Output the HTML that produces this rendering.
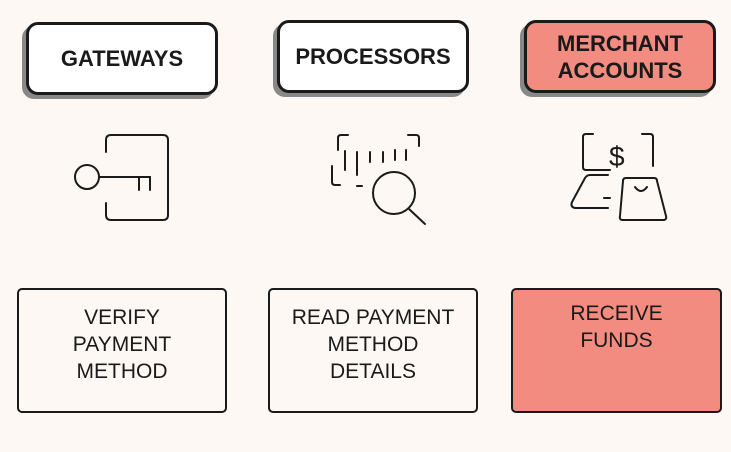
<!DOCTYPE html>
<html><head><style>
body{margin:0;width:731px;height:452px;background:#fdf8f3;position:relative;overflow:hidden;font-family:"Liberation Sans",sans-serif;}
.t{position:absolute;border:3px solid #1a1a1a;border-radius:12px;box-sizing:border-box;display:flex;align-items:center;justify-content:center;text-align:center;font-weight:bold;font-size:22px;line-height:27px;color:#1a1a1a;background:#fff;box-shadow:-4px 4px 0 #888;}
.b{position:absolute;border:2px solid #1a1a1a;border-radius:5px;box-sizing:border-box;display:flex;justify-content:center;text-align:center;font-size:21px;line-height:27px;color:#1a1a1a;background:#fdf8f3;padding-top:14px;}
</style></head><body>
<div class="t" style="left:26px;top:22px;width:192px;height:73px;">GATEWAYS</div>
<div class="t" style="left:277px;top:20px;width:192px;height:73px;">PROCESSORS</div>
<div class="t" style="left:524px;top:20px;width:192px;height:73px;background:#f28b80;">MERCHANT<br>ACCOUNTS</div>
<svg style="position:absolute;left:0;top:0" width="731" height="452" fill="none" stroke="#1a1a1a" stroke-width="2" stroke-linecap="round">
<path d="M106 152 V140 q0-5 5-5 H163 q5 0 5 5 V215 q0 5-5 5 H111 q-5 0-5-5 V203"/>
<circle cx="87" cy="177" r="12"/>
<path d="M99 177 H150 V190 M139 177 V190"/>
<path d="M338 150 V138 q0-3 3-3 H348 M408 135 H416 q3 0 3 3 V146 M332 166 V182 q0 3 3 3 H340"/>
<path d="M345 151 V170 M357 152 V175 M370 152 V162 M383 152 V162 M395 150 V160 M406 150 V160 M357 186 H362"/>
<circle cx="394" cy="193" r="21"/>
<path d="M409 209 L425 224"/>
<path d="M593 134 H586 q-3 0-3 3 V167 q0 3 3 3 H610 M642 134 H650 q3 0 3 3 V166"/>
<text x="609" y="166" font-family="Liberation Sans" font-size="28" fill="#1a1a1a" stroke="none">$</text>
<path d="M608 175 H590 q-3 0-5 3 L572 202 q-2 5 3 6 H608 M604 198 H610"/>
<path d="M626 178 H654 q3 0 3 3 L666 216 q1 4-3 4 H623 q-4 0-3-4 L623 181 q0-3 3-3 Z M635 187 q6 8 12 0"/>
</svg>
<div class="b" style="left:17px;top:288px;width:210px;height:125px;">VERIFY<br>PAYMENT<br>METHOD</div>
<div class="b" style="left:268px;top:288px;width:210px;height:125px;">READ PAYMENT<br>METHOD<br>DETAILS</div>
<div class="b" style="left:511px;top:288px;width:211px;height:125px;background:#f28b80;padding-top:10px;">RECEIVE<br>FUNDS</div>
</body></html>
